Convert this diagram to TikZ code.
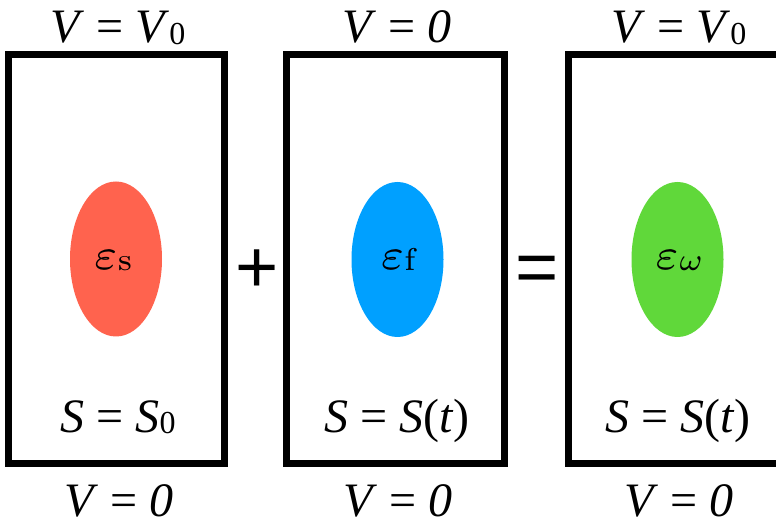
\documentclass[tikz,border=0pt]{standalone}
\usepackage{graphicx}
\usepackage{fontspec}
\usetikzlibrary{shapes.geometric}
\newfontfamily\tnr{Liberation Serif}
\newfontfamily\arialf{Liberation Sans}
\newcommand\zsub[1]{\raisebox{-2pt}{\fontsize{32}{32}\selectfont #1}}
\newcommand\esub[1]{\raisebox{-1pt}{\scalebox{4.5}{\scriptsize #1}}}
\newcommand\bigeps{\scalebox{6.3}{\scriptsize$\varepsilon$}}
\begin{document}
\begin{tikzpicture}[x=1pt,y=1pt,
  frame/.style={draw=black,line width=7pt},
  lab/.style={font=\tnr\fontsize{48}{48}\selectfont, anchor=base, inner sep=0pt},
  eps/.style={font=\fontsize{44}{44}\selectfont, anchor=base, inner sep=0pt},
  op/.style={font=\arialf\fontsize{74}{74}\selectfont, anchor=base, inner sep=0pt},
  blob/.style={ellipse, draw=none, inner sep=0pt, minimum width=92pt, minimum height=155pt}]
\clip (0,0) rectangle (776,525);
\fill[white] (0,0) rectangle (776,525);
% boxes
\node[frame, rectangle, inner sep=0pt, minimum width=216pt, minimum height=408pt] (b1) at (116.5,266) {};
\node[frame, rectangle, inner sep=0pt, minimum width=217.5pt, minimum height=408pt] (b2) at (395.25,266) {};
\node[frame, rectangle, inner sep=0pt, minimum width=217.5pt, minimum height=408pt] (b3) at (677.25,266) {};
% ellipses
\node[blob, fill={rgb,255:red,255;green,99;blue,78}] (e1) at (116,266) {};
\node[blob, fill={rgb,255:red,0;green,160;blue,255}] (e2) at (397.5,265.5) {};
\node[blob, fill={rgb,255:red,96;green,216;blue,58}] (e3) at (677.5,265.5) {};
% epsilon labels
\node[eps] (l1) at (113,255) {\bigeps\esub{s}};
\node[eps] (l2) at (398,255) {\bigeps\esub{f}};
\node[eps] (l3) at (679,255) {\bigeps\esub{$\omega$}};
% top labels
\node[lab] (t1) at (118,482) {\textit{V} = \textit{V}\zsub{0}};
\node[lab] (t2) at (397,482) {\textit{V} = \textit{0}};
\node[lab] (t3) at (679,482) {\textit{V} = \textit{V}\zsub{0}};
% S labels
\node[lab] (s1) at (118,93) {\textit{S} = \textit{S}\zsub{0}};
\node[lab] (s2) at (397,93) {\textit{S} = \textit{S}(\textit{t})};
\node[lab] (s3) at (678,93) {\textit{S} = \textit{S}(\textit{t})};
% bottom labels
\node[lab] (u1) at (119,9) {\textit{V} = \textit{0}};
\node[lab] (u2) at (398,9) {\textit{V} = \textit{0}};
\node[lab] (u3) at (679,9) {\textit{V} = \textit{0}};
% operators
\node[op] (plus) at (257,232) {+};
\node[op] (eq) at (537.5,232) {=};
\end{tikzpicture}
\end{document}
